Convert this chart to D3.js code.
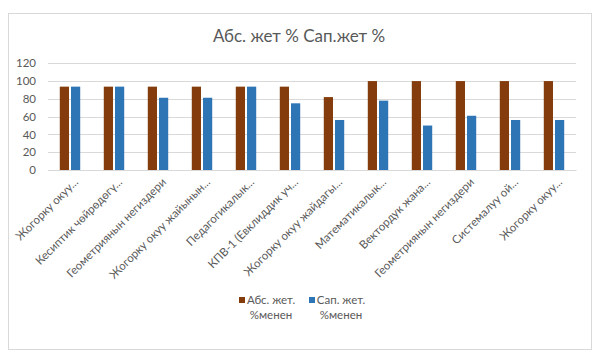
<!DOCTYPE html>
<html><head><meta charset="utf-8">
<script src="https://cdn.jsdelivr.net/npm/d3@7"></script>
<style>body{margin:0;background:#fff}svg{display:block}text{font-family:Lato,"Liberation Sans",sans-serif}</style>
</head><body><svg id="c" width="608" height="360"></svg>
<script>
const title = "Абс. жет % Сап.жет %";
const categories = ["Жогорку окуу...","Кесиптик чөйрөдөгү...","Геометриянын негиздери","Жогорку окуу жайынын...","Педагогикалык...","КПВ-1 (Евклиддик уч...","Жогорку окуу жайдагы...","Математикалык...","Вектордук жана...","Геометриянын негиздери","Системалуу ой...","Жогорку окуу..."];
const seriesNames = [["Абс. жет.","%менен"],["Сап. жет.","%менен"]];
const absValues = [93.75,93.75,93.75,93.75,93.75,93.75,82,100,100,100,100,100];
const sapValues = [93.75,93.75,81.25,81.25,93.75,75,56.25,78,50,61,56.25,56.25];
const yTicks = [0,20,40,60,80,100,120];
const colors = ["#843c0c","#2e75b6"];

const svg = d3.select("#c");
svg.append("rect").attr("x",8.5).attr("y",13.5).attr("width",583).attr("height",336).attr("fill","#fff").attr("stroke","#d9d9d9");
svg.append("text").attr("x",299).attr("y",42).attr("text-anchor","middle").attr("font-size",17).attr("fill","#595959").text(title);

const x = d3.scaleBand().domain(categories.map((d,i)=>i)).range([48,576]);
const y = d3.scaleLinear().domain([0,120]).range([170,63.3]);
const inner = d3.scaleBand().domain([0,1]).range([0,x.bandwidth()]).paddingInner(0.18).paddingOuter(1.05);

const grid = svg.append("g");
grid.selectAll("line").data(yTicks).join("line")
  .attr("x1",48).attr("x2",576).attr("y1",d=>Math.round(y(d))+0.5).attr("y2",d=>Math.round(y(d))+0.5)
  .attr("stroke","#d9d9d9");
const yAxis = d3.axisLeft(y).tickValues(yTicks).tickSize(0).tickPadding(12);
svg.append("g").attr("transform","translate(48,0)").call(yAxis)
  .call(g=>g.select(".domain").remove())
  .call(g=>g.selectAll("text").attr("font-size",11.5).attr("fill","#595959").attr("font-family","Lato,'Liberation Sans',sans-serif"));

const series = [absValues, sapValues];
series.forEach((vals,s)=>{
  svg.append("g").selectAll("rect").data(vals).join("rect")
    .attr("x",(d,i)=>x(i)+inner(s)).attr("width",inner.bandwidth())
    .attr("y",d=>y(d)).attr("height",d=>y(0)-y(d)).attr("fill",colors[s]);
});

const xAxis = d3.axisBottom(x).tickSize(0).tickFormat(i=>categories[i]);
const xg = svg.append("g").attr("transform","translate(0,170)").call(xAxis);
xg.select(".domain").attr("stroke","#d9d9d9");
xg.selectAll("text").attr("font-size",11.5).attr("fill","#595959").attr("font-family","Lato,'Liberation Sans',sans-serif")
  .attr("text-anchor","end").attr("dy","0.35em").attr("y",0)
  .attr("transform","translate(6,10) rotate(-45)");

const leg = svg.append("g");
const legX = [239, 309];
seriesNames.forEach((lines,s)=>{
  leg.append("rect").attr("x",legX[s]).attr("y",297).attr("width",6).attr("height",6).attr("fill",colors[s]);
  const t = leg.append("text").attr("font-size",11.5).attr("fill","#595959").attr("text-anchor","middle");
  lines.forEach((l,k)=>t.append("tspan").attr("x",legX[s]+32).attr("y",304+k*14.5).text(l));
});
</script></body></html>
